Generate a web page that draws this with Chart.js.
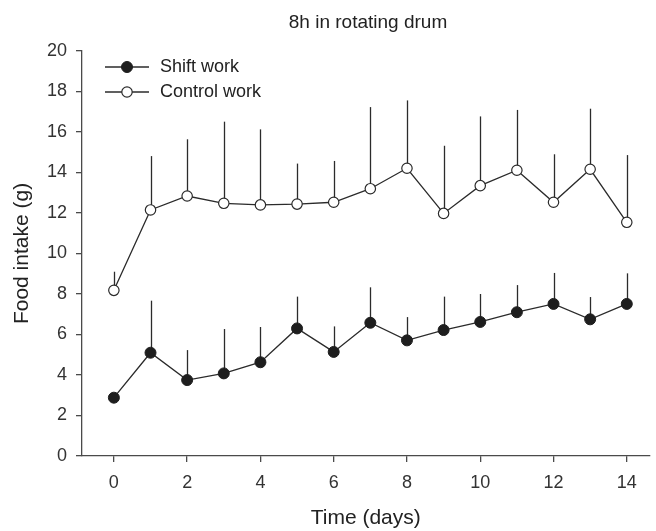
<!DOCTYPE html>
<html>
<head>
<meta charset="utf-8">
<script src="https://cdn.jsdelivr.net/npm/chart.js@4.4.1/dist/chart.umd.min.js"></script>
<style>
  html, body { margin: 0; padding: 0; background: #ffffff; }
  #wrap { width: 656px; height: 531px; }
</style>
</head>
<body>
<div id="wrap"><canvas id="c" width="656" height="531"></canvas></div>
<script>
// Daily food intake (g), mean with upward error bar
const days = [0, 1, 2, 3, 4, 5, 6, 7, 8, 9, 10, 11, 12, 13, 14];
const shiftMean = [2.88, 5.10, 3.75, 4.08, 4.63, 6.30, 5.14, 6.58, 5.71, 6.22, 6.62, 7.10, 7.51, 6.75, 7.51];
const shiftErr  = [0.20, 2.57, 1.48, 2.19, 1.74, 1.57, 1.26, 1.75, 1.15, 1.65, 1.38, 1.34, 1.53, 1.10, 1.51];
const controlMean = [8.18, 12.15, 12.84, 12.48, 12.40, 12.44, 12.53, 13.20, 14.21, 11.98, 13.35, 14.11, 12.53, 14.16, 11.54];
const controlErr  = [0.92, 2.66, 2.80, 4.03, 3.73, 2.00, 2.04, 4.03, 3.35, 3.34, 3.42, 2.98, 2.37, 2.99, 3.32];
const xTicks = [0, 2, 4, 6, 8, 10, 12, 14];
const yTicks = [0, 2, 4, 6, 8, 10, 12, 14, 16, 18, 20];

const INK = '#2b2b2b';
const AXIS = '#4a4a4a';
const FONT = "'Liberation Sans', Arial, sans-serif";

const toPoints = (ys) => days.map((d, i) => ({ x: d, y: ys[i] }));

// Vertical error bars (mean -> mean + err), drawn under the markers
const errorBars = {
  id: 'errorBars',
  beforeDatasetsDraw(chart) {
    const { ctx, scales: { x, y } } = chart;
    ctx.save();
    ctx.strokeStyle = INK;
    ctx.lineWidth = 1.3;
    chart.data.datasets.forEach((ds) => {
      ds.errors.forEach((e, i) => {
        const px = Math.round(x.getPixelForValue(ds.data[i].x)) + 0.5;
        ctx.beginPath();
        ctx.moveTo(px, y.getPixelForValue(ds.data[i].y));
        ctx.lineTo(px, y.getPixelForValue(ds.data[i].y + e));
        ctx.stroke();
      });
    });
    ctx.restore();
  }
};

// Title and line-with-marker legend
const decorations = {
  id: 'decorations',
  afterDraw(chart) {
    const { ctx, chartArea } = chart;
    ctx.save();
    ctx.fillStyle = '#222';
    ctx.font = `19px ${FONT}`;
    ctx.textAlign = 'center';
    ctx.textBaseline = 'middle';
    ctx.fillText('8h in rotating drum', 368, 23);

    const x0 = chartArea.left + 23, x1 = chartArea.left + 67, xm = chartArea.left + 45;
    chart.data.datasets.forEach((ds, i) => {
      const ly = chartArea.top + 16 + i * 25;
      ctx.strokeStyle = ds.borderColor;
      ctx.lineWidth = 1.3;
      ctx.beginPath();
      ctx.moveTo(x0, ly);
      ctx.lineTo(x1, ly);
      ctx.stroke();
      ctx.beginPath();
      ctx.arc(xm, ly, ds.pointRadius, 0, Math.PI * 2);
      ctx.fillStyle = ds.pointBackgroundColor;
      ctx.fill();
      ctx.lineWidth = ds.pointBorderWidth;
      ctx.strokeStyle = ds.pointBorderColor;
      ctx.stroke();
      ctx.fillStyle = '#222';
      ctx.font = `18px ${FONT}`;
      ctx.textAlign = 'left';
      ctx.fillText(ds.label, chartArea.left + 78, ly);
    });
    ctx.restore();
  }
};

new Chart(document.getElementById('c'), {
  type: 'line',
  data: {
    datasets: [
      {
        label: 'Shift work',
        data: toPoints(shiftMean),
        errors: shiftErr,
        borderColor: INK,
        borderWidth: 1.3,
        pointRadius: 5.5,
        pointBackgroundColor: '#1e1e1e',
        pointBorderColor: '#1e1e1e',
        pointBorderWidth: 1,
        tension: 0
      },
      {
        label: 'Control work',
        data: toPoints(controlMean),
        errors: controlErr,
        borderColor: INK,
        borderWidth: 1.3,
        pointRadius: 5.2,
        pointBackgroundColor: '#ffffff',
        pointBorderColor: INK,
        pointBorderWidth: 1.2,
        tension: 0
      }
    ]
  },
  options: {
    responsive: false,
    animation: false,
    layout: { padding: { top: 51, right: 0, left: 0, bottom: 0 } },
    plugins: {
      legend: { display: false },
      tooltip: { enabled: false },
      title: { display: false }
    },
    scales: {
      x: {
        type: 'linear',
        min: -0.87,
        max: 14.62,
        afterBuildTicks: (s) => { s.ticks = xTicks.map((v) => ({ value: v })); },
        afterFit: (s) => { s.height = 75; },
        grid: { drawOnChartArea: false, drawTicks: true, tickLength: 6, color: AXIS, lineWidth: 1.3 },
        border: { display: true, color: AXIS, width: 1.3 },
        ticks: { color: '#333', font: { family: FONT, size: 18 }, padding: 10, maxRotation: 0 },
        title: { display: true, text: 'Time (days)', color: '#222', font: { family: FONT, size: 21 }, padding: { top: 0, bottom: 0 } }
      },
      y: {
        type: 'linear',
        min: 0,
        max: 20,
        afterBuildTicks: (s) => { s.ticks = yTicks.map((v) => ({ value: v })); },
        afterFit: (s) => { s.width = 82; },
        grid: { drawOnChartArea: false, drawTicks: true, tickLength: 6, color: AXIS, lineWidth: 1.3 },
        border: { display: true, color: AXIS, width: 1.3 },
        ticks: { color: '#333', font: { family: FONT, size: 18 }, padding: 9 },
        title: { display: true, text: 'Food intake (g)', color: '#222', font: { family: FONT, size: 21 }, padding: { top: 10, bottom: 0 } }
      }
    }
  },
  plugins: [errorBars, decorations]
});
</script>
</body>
</html>
